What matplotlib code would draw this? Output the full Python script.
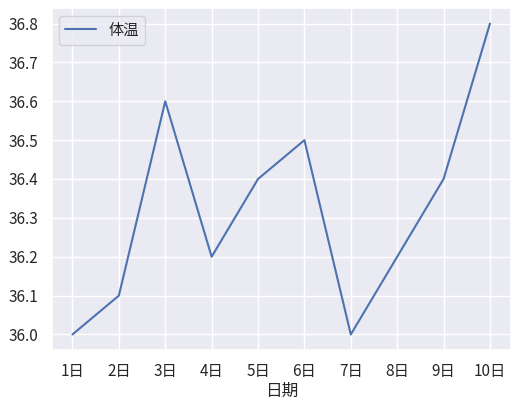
import matplotlib
matplotlib.use("Agg")
import matplotlib.pyplot as plt
import seaborn as sns

days = ["1日", "2日", "3日", "4日", "5日", "6日", "7日", "8日", "9日", "10日"]
temps = [36.0, 36.1, 36.6, 36.2, 36.4, 36.5, 36.0, 36.2, 36.4, 36.8]

sns.set_theme(style="darkgrid")
plt.rcParams["font.family"] = ["Noto Sans CJK SC", "DejaVu Sans"]
plt.rcParams["axes.unicode_minus"] = False

fig, ax = plt.subplots(figsize=(5.16, 4.0), dpi=100)
ax.plot(days, temps, label="体温")
ax.set_xlabel("日期", labelpad=2)
ax.legend(loc="upper left")
fig.subplots_adjust(left=0.1, right=0.99, top=0.98, bottom=0.125)
fig.savefig("out.png", dpi=100)
